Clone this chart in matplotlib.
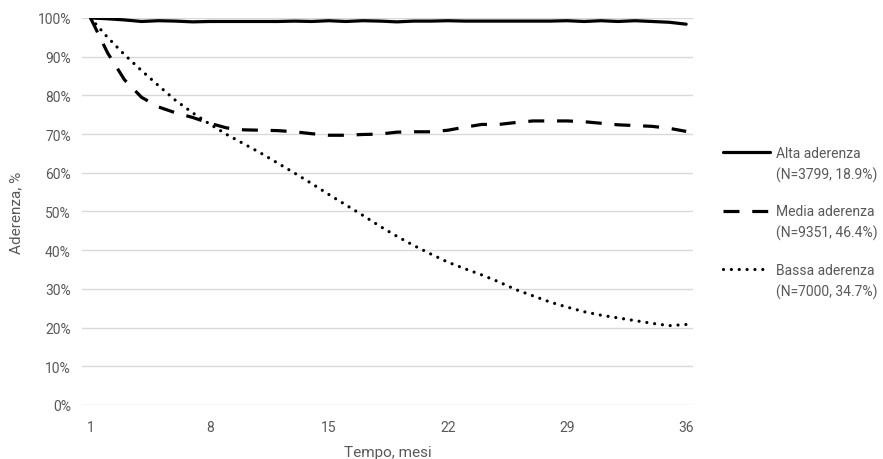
import matplotlib
matplotlib.use("Agg")
import matplotlib.pyplot as plt
from matplotlib.lines import Line2D
from matplotlib.ticker import FuncFormatter, MultipleLocator

plt.rcParams['font.family'] = ['Roboto', 'DejaVu Sans']

# Months of follow-up
mesi = list(range(1, 37))

# Share of patients still adherent (%), by adherence group
alta = [100.0, 99.8, 99.5, 99.1, 99.3, 99.2, 99.0, 99.1, 99.1, 99.1, 99.1, 99.1,
        99.2, 99.1, 99.3, 99.1, 99.3, 99.2, 99.0, 99.2, 99.2, 99.3, 99.2, 99.2,
        99.2, 99.2, 99.2, 99.2, 99.3, 99.1, 99.3, 99.1, 99.3, 99.1, 98.9, 98.4]
media = [100.0, 91.0, 84.0, 79.5, 77.0, 75.5, 74.3, 72.8, 71.6, 71.1, 71.0, 70.9,
         70.6, 70.1, 69.7, 69.7, 69.9, 70.0, 70.5, 70.6, 70.6, 71.0, 71.8, 72.5,
         72.5, 73.0, 73.4, 73.4, 73.4, 73.2, 72.8, 72.4, 72.2, 72.0, 71.5, 70.7]
bassa = [100.0, 95.0, 90.5, 86.4, 82.5, 78.7, 75.5, 72.6, 69.9, 67.5, 65.1, 62.5,
         59.9, 57.2, 54.4, 51.7, 49.0, 46.2, 43.6, 41.2, 39.0, 36.9, 35.2, 33.6,
         31.8, 29.8, 28.2, 26.6, 25.3, 24.1, 23.2, 22.5, 21.8, 21.1, 20.5, 20.8]

etichette = ["Alta aderenza\n(N=3799, 18.9%)",
             "Media aderenza\n(N=9351, 46.4%)",
             "Bassa aderenza\n(N=7000, 34.7%)"]
tick_x = [1, 8, 15, 22, 29, 36]

grey = '#595959'
lw = 2.3
stili = [dict(linestyle='-', solid_capstyle='round'),
         dict(linestyle=(0, (5.0, 4.0)), dash_capstyle='butt'),
         dict(linestyle=(0, (0.01, 2.45)), dash_capstyle='round')]

fig = plt.figure(figsize=(8.83, 4.60), dpi=100)
ax = fig.add_axes([0.0929, 0.1174, 0.6919, 0.8413])

for serie, st in zip([alta, media, bassa], stili):
    ax.plot(mesi, serie, color='black', lw=lw, zorder=3, **st)

ax.set_xlim(0.5, 36.4)
ax.set_ylim(0, 100)
ax.yaxis.set_major_locator(MultipleLocator(10))
ax.yaxis.set_major_formatter(FuncFormatter(lambda v, p: f"{v:.0f}%"))
ax.set_xticks(tick_x)
ax.grid(axis='y', color='#d9d9d9', lw=1.0)
ax.set_axisbelow(True)
for s in ax.spines.values():
    s.set_visible(False)
ax.tick_params(axis='both', length=0, labelsize=10, labelcolor=grey)
ax.tick_params(axis='x', pad=11)
ax.tick_params(axis='y', pad=8)
ax.set_xlabel("Tempo, mesi", fontsize=11, color=grey, labelpad=8)
ax.set_ylabel("Aderenza, %", fontsize=11, color=grey, labelpad=10)

# Legend drawn to the right of the plot, handle level with the first text line
W, H = 883, 460
y_rows = [153, 211.5, 270]
for st, lab, yr in zip(stili, etichette, y_rows):
    fy = 1 - yr / H
    fig.add_artist(Line2D([723 / W, 770 / W], [fy, fy], color='black', lw=lw,
                          transform=fig.transFigure, **st))
    fig.text(776 / W, fy + 6 / H, lab, fontsize=10, color=grey,
             va='top', ha='left', linespacing=1.55)

fig.savefig("out.png", dpi=100)
